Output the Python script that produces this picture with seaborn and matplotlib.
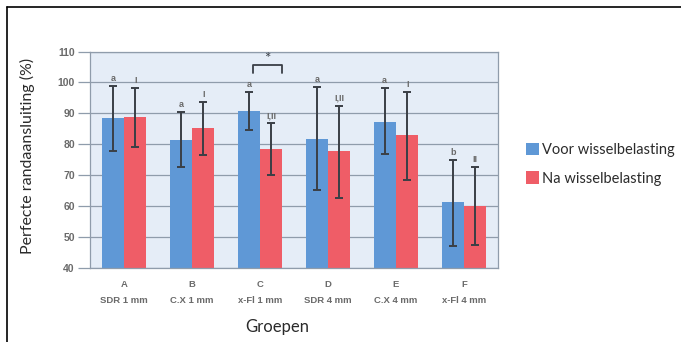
import numpy as np
import pandas as pd
import matplotlib
matplotlib.use("Agg")
import matplotlib.pyplot as plt
import seaborn as sns
from matplotlib.patches import Patch

groups = ["A", "B", "C", "D", "E", "F"]
sublabels = ["SDR 1 mm", "C.X 1 mm", "x-Fl 1 mm", "SDR 4 mm", "C.X 4 mm", "x-Fl 4 mm"]
series = ["Voor wisselbelasting", "Na wisselbelasting"]

voor = [88.4, 81.5, 90.8, 81.8, 87.3, 61.4]
voor_hi = [98.9, 90.3, 96.8, 98.4, 98.1, 75.0]
voor_lo = [77.8, 72.7, 84.7, 65.3, 76.7, 47.0]
voor_sig = ["a", "a", "a", "a", "a", "b"]

na = [88.9, 85.4, 78.6, 77.8, 83.0, 60.0]
na_hi = [98.1, 93.8, 86.8, 92.5, 97.0, 72.6]
na_lo = [79.1, 76.4, 70.0, 62.6, 68.3, 47.3]
na_sig = ["I", "I", "I,II", "I,II", "I", "II"]

blue = "#5f98d6"
red = "#ef5d67"

df = pd.DataFrame({
    "groep": groups * 2,
    "fase": [series[0]] * 6 + [series[1]] * 6,
    "waarde": voor + na,
})

sns.set_style("white")
plt.rcParams["font.family"] = ["Lato", "DejaVu Sans"]

fig = plt.figure(figsize=(6.81, 3.42), dpi=100)
ax = fig.add_axes([0.1322, 0.2164, 0.599, 0.633])
ax.set_facecolor("#e5edf7")

sns.barplot(data=df, x="groep", y="waarde", hue="fase", order=groups,
            hue_order=series, palette=[blue, red], width=0.66,
            saturation=1, errorbar=None, legend=False, ax=ax, zorder=2)

tick_font = dict(family="Liberation Sans", fontweight="bold", color="#6a6a6a")
for cont, hi, lo, sig in zip(ax.containers, [voor_hi, na_hi], [voor_lo, na_lo], [voor_sig, na_sig]):
    for bar, h, l, s in zip(cont, hi, lo, sig):
        bar.set_edgecolor("none")
        xc = bar.get_x() + bar.get_width() / 2
        ax.errorbar(xc, (h + l) / 2, yerr=(h - l) / 2, fmt="none",
                    ecolor="#3a3f46", elinewidth=1.4, capsize=3, capthick=1.4, zorder=3)
        ax.text(xc, h + 1.0, s, ha="center", va="bottom", fontsize=6.5, **tick_font)

# significance bracket at group C
xa, xb = 2 - 0.1, 2 + 0.32
ax.plot([xa, xa, xb, xb], [102.9, 105.7, 105.7, 102.9], color="#3a3f46", lw=1.3,
        clip_on=False, zorder=4)
ax.text((xa + xb) / 2, 105.2, "*", ha="center", va="bottom", fontsize=11, color="#3a3f46")

ax.set_ylim(40, 110)
ax.set_xlim(-0.5, 5.5)
ax.set_yticks(np.arange(40, 111, 10))
ax.yaxis.grid(True, color="#8f9cab", lw=0.9, zorder=0)
ax.set_axisbelow(True)
ax.set_xticks(range(6))
ax.set_xticklabels([f"{g}\n{s}" for g, s in zip(groups, sublabels)], linespacing=2.0)
for t in ax.get_xticklabels() + ax.get_yticklabels():
    t.set_fontfamily("Liberation Sans")
    t.set_fontweight("bold")
    t.set_color("#6a6a6a")
    t.set_fontsize(6.8)
ax.set_yticklabels([str(v) for v in range(40, 111, 10)], fontsize=7.5)
ax.set_xticks(np.arange(-0.5, 6, 1), minor=True)
ax.tick_params(axis="x", which="major", length=0, pad=9)
ax.tick_params(axis="x", which="minor", length=5, color="#8f9cab", width=0.9, direction="out")
ax.tick_params(axis="y", length=9, color="#8f9cab", width=0.9, pad=2, left=True)
for sp in ax.spines.values():
    sp.set_color("#8f9cab")
    sp.set_linewidth(0.9)
ax.set_xlabel("")
ax.set_ylabel("")

fig.text(0.041, 0.545, "Perfecte randaansluiting (%)", rotation=90, ha="center",
         va="center", fontsize=11.5, color="#2b2b2b")
fig.text(0.407, 0.045, "Groepen", ha="center", va="center", fontsize=12, color="#2b2b2b")

handles = [Patch(facecolor=blue, edgecolor="none"), Patch(facecolor=red, edgecolor="none")]
fig.legend(handles, series, loc="center left", bbox_to_anchor=(0.753, 0.52), frameon=False,
           fontsize=10.5, handlelength=0.9, handleheight=0.95, handletextpad=0.2,
           labelspacing=1.0, labelcolor="#2b2b2b")

# outer frame (left and top)
fig.add_artist(plt.Line2D([0.0103, 0.0103], [0, 0.979], color="black", lw=1.2))
fig.add_artist(plt.Line2D([0.0103, 1], [0.979, 0.979], color="black", lw=1.2))

fig.savefig("out.png", dpi=100)
